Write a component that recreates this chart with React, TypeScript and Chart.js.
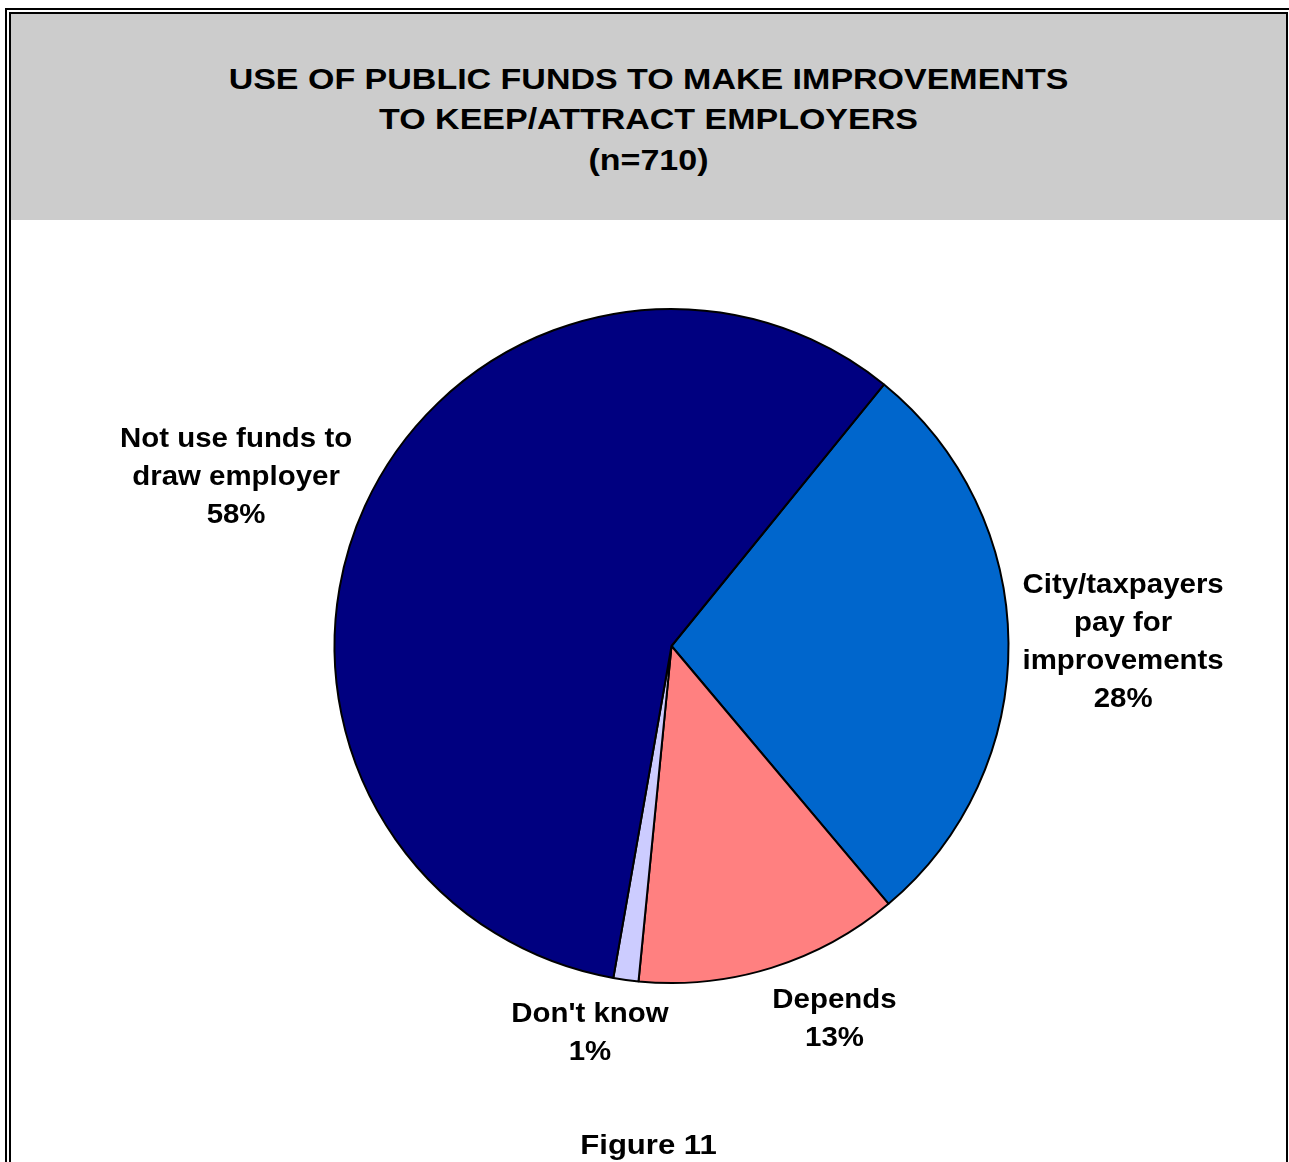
import React, { useEffect, useRef } from "react";
import { Chart, registerables } from "chart.js";

Chart.register(...registerables);

// ---- data ----
const categories = [
  "City/taxpayers pay for improvements",
  "Depends",
  "Don't know",
  "Not use funds to draw employer",
];
const labelLines = [
  ["City/taxpayers", "pay for", "improvements"],
  ["Depends"],
  ["Don't know"],
  ["Not use funds to", "draw employer"],
];
const percentages = [28.0, 12.7, 1.2, 58.1];
const sliceColors = ["#0066CC", "#FF8080", "#CCCCFF", "#000080"];
const titleLines = [
  "USE OF PUBLIC FUNDS TO MAKE IMPROVEMENTS",
  "TO KEEP/ATTRACT EMPLOYERS",
  "(n=710)",
];
const captionText = "Figure 11";

const FONT = '"Liberation Sans", Arial, Helvetica, sans-serif';

const outsideLabels = {
  id: "outsideLabels",
  afterDatasetsDraw(chart: any) {
    const ctx = chart.ctx;
    const meta = chart.getDatasetMeta(0);
    const fs = 27;
    const sx = 1.09;
    const lh = 38;
    const gap = 14;
    const capH = fs * 0.716;
    ctx.save();
    ctx.fillStyle = "#000";
    ctx.font = `bold ${fs}px ${FONT}`;
    ctx.textAlign = "center";
    ctx.textBaseline = "alphabetic";
    meta.data.forEach((arc: any, i: number) => {
      const p = arc.getProps(["x", "y", "startAngle", "endAngle", "outerRadius"], true);
      const mid = (p.startAngle + p.endAngle) / 2;
      const dx = Math.cos(mid);
      const dy = Math.sin(mid);
      const ax = p.x + (p.outerRadius + gap) * dx;
      const ay = p.y + (p.outerRadius + gap) * dy;
      const lines = [...labelLines[i], Math.round(percentages[i]) + "%"];
      const w = Math.max(...lines.map((l) => ctx.measureText(l).width)) * sx;
      const h = lines.length * lh;
      const k = Math.max(-1, Math.min(1, dx * 3.2));
      const cx = ax + (w / 2) * k;
      const cy = ay + (h / 2) * dy + 2 * Math.abs(dy) - 2;
      lines.forEach((l, j) => {
        const by = cy - h / 2 + lh * j + lh / 2 + capH / 2;
        ctx.save();
        ctx.translate(cx, by);
        ctx.scale(sx, 1);
        ctx.fillText(l, 0, 0);
        ctx.restore();
      });
    });
    ctx.restore();
  },
};

export default function App() {
  const canvasRef = useRef<HTMLCanvasElement | null>(null);

  useEffect(() => {
    if (!canvasRef.current) return;
    const chart = new Chart(canvasRef.current, {
      type: "pie",
      data: {
        labels: categories,
        datasets: [
          {
            data: percentages,
            backgroundColor: sliceColors,
            borderColor: "#000000",
            borderWidth: 2,
          },
        ],
      },
      options: {
        responsive: false,
        animation: false,
        devicePixelRatio: 1,
        events: [],
        rotation: 39.1,
        layout: {
          padding: { left: 333.5, top: 308, right: 279.5, bottom: 178 },
        },
        plugins: {
          legend: { display: false },
          tooltip: { enabled: false },
          title: { display: false },
        },
      },
      plugins: [outsideLabels],
    });
    return () => chart.destroy();
  }, []);

  const lineStyle: React.CSSProperties = {
    display: "block",
    textAlign: "center",
    transform: "scaleX(1.172)",
    transformOrigin: "center",
    whiteSpace: "nowrap",
  };

  return (
    <div
      style={{
        position: "absolute",
        left: 0,
        top: 0,
        width: 1289,
        height: 1162,
        overflow: "hidden",
        background: "#ffffff",
        fontFamily: FONT,
      }}
    >
      {/* outer frame line */}
      <div
        style={{
          position: "absolute",
          left: 5,
          top: 8,
          width: 1287,
          height: 1300,
          border: "2px solid #000",
          boxSizing: "border-box",
        }}
      />
      {/* inner frame line */}
      <div
        style={{
          position: "absolute",
          left: 9,
          top: 12,
          width: 1279,
          height: 1300,
          border: "2px solid #000",
          boxSizing: "border-box",
        }}
      />
      {/* header band */}
      <div
        style={{
          position: "absolute",
          left: 11,
          top: 14,
          width: 1275,
          height: 206,
          background: "#CCCCCC",
        }}
      />
      {/* title */}
      <div
        style={{
          position: "absolute",
          left: 11,
          top: 58.5,
          width: 1275,
          fontWeight: "bold",
          fontSize: 29,
          lineHeight: "40.8px",
          color: "#000",
        }}
      >
        {titleLines.map((t, i) => (
          <div key={i} style={lineStyle}>
            {t}
          </div>
        ))}
      </div>
      <canvas
        ref={canvasRef}
        width={1289}
        height={1162}
        style={{ position: "absolute", left: 0, top: 0, width: 1289, height: 1162 }}
      />
      {/* caption */}
      <div
        style={{
          position: "absolute",
          left: 11,
          top: 1125,
          width: 1275,
          fontWeight: "bold",
          fontSize: 28,
          lineHeight: "40px",
          color: "#000",
          textAlign: "center",
        }}
      >
        <span style={{ ...lineStyle, transform: "scaleX(1.11)" }}>{captionText}</span>
      </div>
    </div>
  );
}
